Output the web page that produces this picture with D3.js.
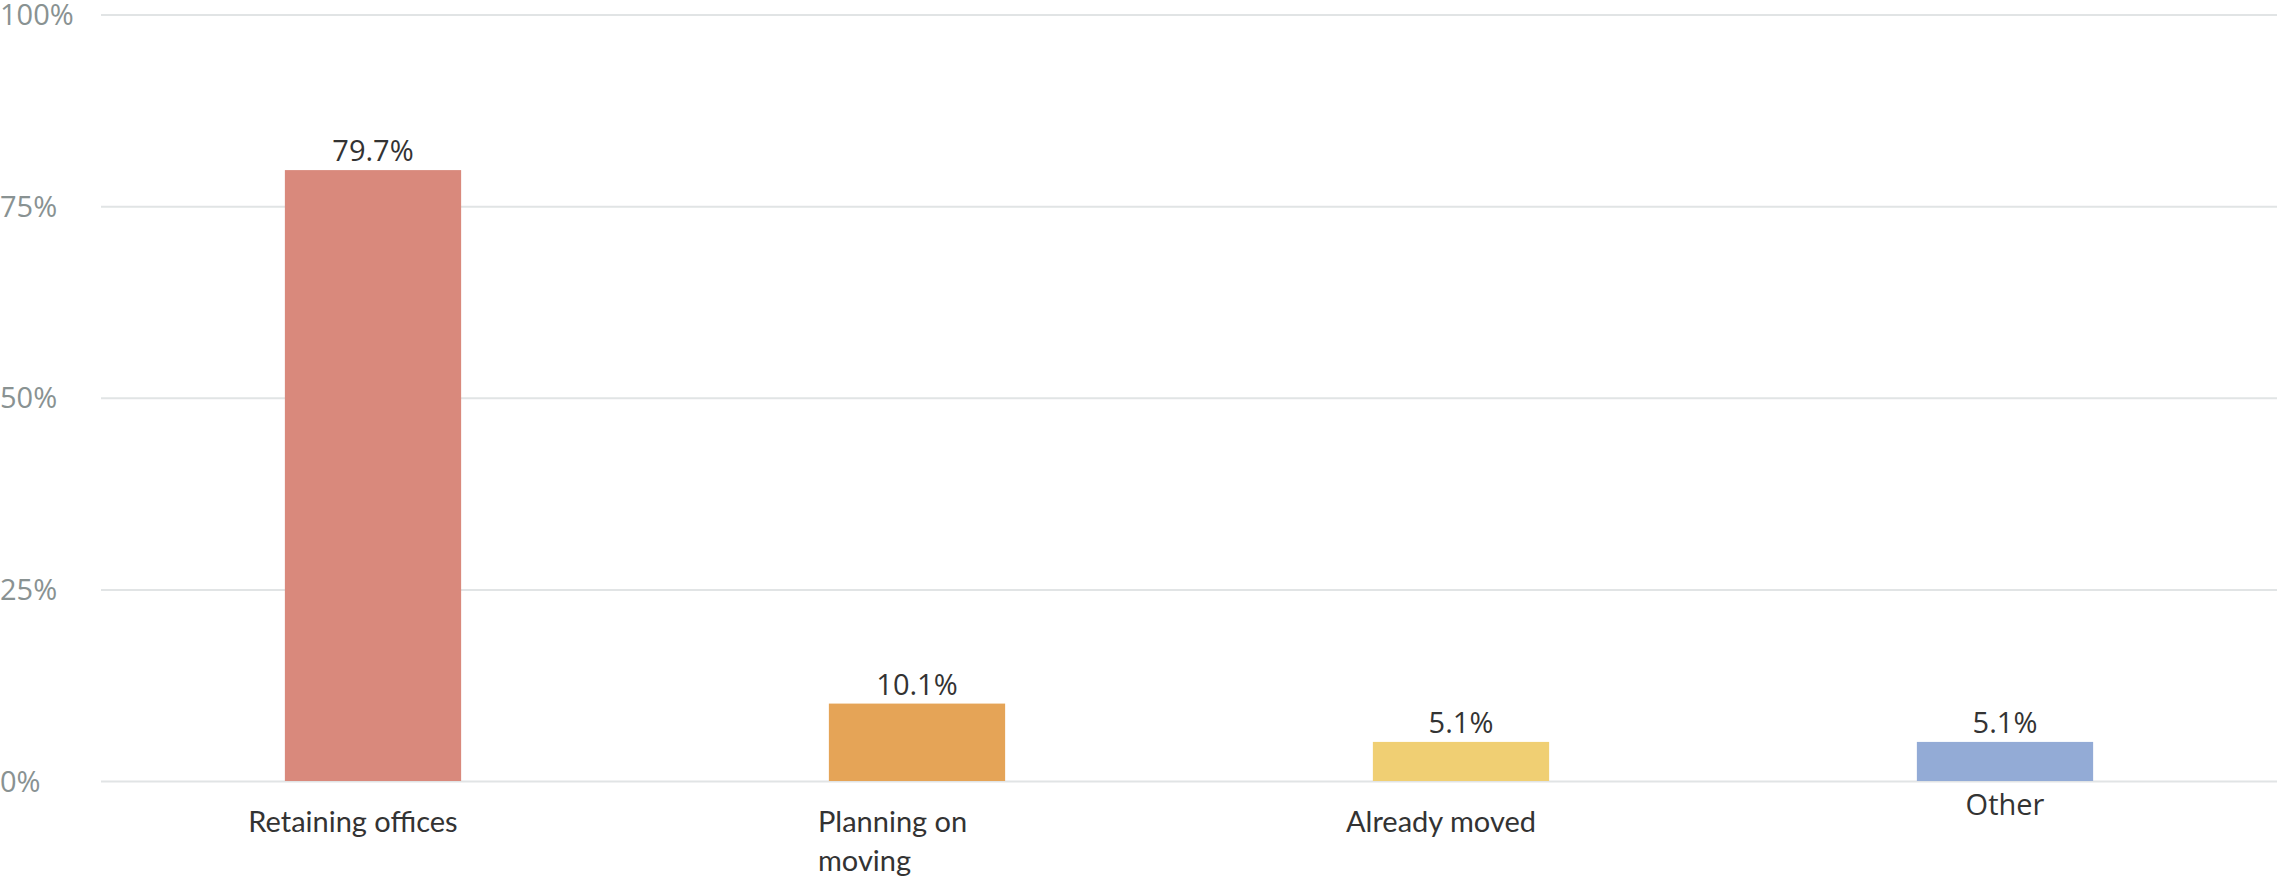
<!DOCTYPE html>
<html>
<head>
<meta charset="utf-8">
<script src="https://cdn.jsdelivr.net/npm/d3@7"></script>
<style>
  body { margin: 0; background: #fff; }
  svg { display: block; }
</style>
</head>
<body>
<script>
'use strict';

const categories = ["Retaining offices", "Planning on moving", "Already moved", "Other"]
const values = [79.7, 10.1, 5.1, 5.1]
const barColors = ["#d9897c", "#e5a457", "#f0cf73", "#93abd6"]
const yTicks = [0, 25, 50, 75, 100]

const m = {
  width: 2277,
  height: 877,
  left: 101,
  right: 0,
  top: 14.5,
  bottom: 781
}

const svg = d3.select('body')
  .append('svg')
  .attr('width', m.width)
  .attr('height', m.height)

const xScale = d3.scaleBand()
  .domain(categories)
  .range([m.left, m.width - m.right])
  .paddingInner(0.676)
  .paddingOuter(0.338)

const yScale = d3.scaleLinear()
  .domain([0, 100])
  .range([m.bottom, m.top])

// gridlines + tick labels
const yAxis = d3.axisLeft(yScale)
  .tickValues(yTicks)
  .tickSize(-(m.width - m.left))
  .tickFormat(d => d + '%')

const yG = svg.append('g')
  .attr('transform', 'translate(' + m.left + ', 0)')
  .call(yAxis)

yG.select('.domain').remove()
yG.selectAll('.tick line')
  .attr('stroke', '#e1e4e5')
  .attr('stroke-width', 2)
yG.selectAll('.tick text')
  .attr('x', -m.left)
  .attr('dy', '0.35em')
  .style('text-anchor', 'start')
  .style('font-family', '"Open Sans", sans-serif')
  .style('font-size', '29px')
  .style('fill', '#899292')

const rows = categories.map((c, i) => ({ cat: c, val: values[i], color: barColors[i] }))

svg.selectAll('.bar')
  .data(rows)
  .enter().append('rect')
    .attr('class', 'bar')
    .attr('x', d => xScale(d.cat))
    .attr('y', d => yScale(d.val))
    .attr('width', xScale.bandwidth())
    .attr('height', d => yScale(0) - yScale(d.val))
    .style('fill', d => d.color)

svg.selectAll('.val')
  .data(rows)
  .enter().append('text')
    .attr('class', 'val')
    .attr('x', d => xScale(d.cat) + xScale.bandwidth() / 2)
    .attr('y', d => yScale(d.val) - 9)
    .style('text-anchor', 'middle')
    .style('font-family', '"Open Sans", sans-serif')
    .style('font-size', '29px')
    .style('fill', '#333')
    .text(d => d.val.toFixed(1) + '%')

// category labels
const wrapWidth = 225
svg.selectAll('.cat')
  .data(rows)
  .enter().append('text')
    .attr('class', 'cat')
    .style('font-size', '29px')
    .style('fill', '#333')
    .each(function(d, i) {
      let t = d3.select(this)
      let cx = xScale(d.cat) + xScale.bandwidth() / 2
      if (i == rows.length - 1) {
        // last label sits higher and centred on its bar
        t.style('font-family', '"Open Sans", sans-serif')
          .attr('x', cx).attr('y', 815)
          .style('text-anchor', 'middle')
          .text(d.cat)
        return
      }
      t.style('font-family', 'Lato, sans-serif')
      t.text(d.cat).attr('x', cx - 20).attr('y', 832).style('text-anchor', 'middle')
      if (this.getComputedTextLength() > wrapWidth) {
        let words = d.cat.split(' ')
        let lines = [words.slice(0, 2).join(' '), words.slice(2).join(' ')]
        t.text(null).style('text-anchor', 'start')
        lines.forEach((ln, k) => {
          t.append('tspan')
            .attr('x', cx - 99)
            .attr('y', 832 + k * 39)
            .text(ln)
        })
      }
    })
</script>
</body>
</html>
